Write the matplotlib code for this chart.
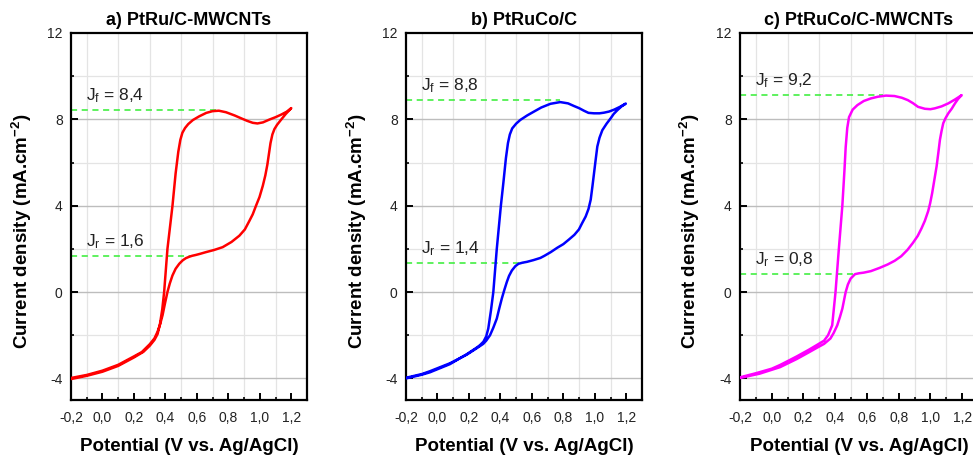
import numpy as np
import matplotlib
matplotlib.use('Agg')
import matplotlib.pyplot as plt
from matplotlib.ticker import FixedLocator, FuncFormatter

plt.rcParams['font.family'] = ['Liberation Sans', 'DejaVu Sans']
plt.rcParams['mathtext.fontset'] = 'custom'
plt.rcParams['mathtext.rm'] = 'Liberation Sans'
plt.rcParams['mathtext.it'] = 'Liberation Sans:italic'
plt.rcParams['mathtext.bf'] = 'Liberation Sans:bold'

# ---- data (potential V, current density mA/cm2) ----
titles = ['a) PtRu/C-MWCNTs', 'b) PtRuCo/C', 'c) PtRuCo/C-MWCNTs']
colors = ['#ff0000', '#0000ff', '#ff00ff']

# panel a
a_fwd_x = [-0.2, -0.1, 0.0, 0.1, 0.2, 0.26, 0.3, 0.33, 0.35, 0.365, 0.38, 0.392, 0.413, 0.445, 0.465,
           0.482, 0.495, 0.508, 0.525, 0.545, 0.575, 0.615, 0.66, 0.70, 0.74, 0.785, 0.84, 0.881, 0.92,
           0.955, 0.985, 1.02, 1.061, 1.10, 1.136, 1.17, 1.2]
a_fwd_y = [-4.03, -3.88, -3.69, -3.42, -3.03, -2.77, -2.49, -2.22, -1.95, -1.5, -0.8, 0.0, 2.0, 4.0, 5.5,
           6.5, 7.05, 7.38, 7.6, 7.78, 7.97, 8.14, 8.3, 8.38, 8.4, 8.33, 8.18, 8.05, 7.93,
           7.84, 7.81, 7.86, 7.99, 8.1, 8.22, 8.35, 8.52]
a_rev_x = [1.2, 1.165, 1.136, 1.11, 1.093, 1.08, 1.068, 1.058, 1.048, 1.035, 1.019, 0.998, 0.976, 0.955,
           0.934, 0.905, 0.87, 0.82, 0.764, 0.71, 0.658, 0.62, 0.594, 0.57, 0.553, 0.53, 0.51, 0.488,
           0.465, 0.445, 0.428, 0.413, 0.398, 0.382, 0.366, 0.35, 0.33, 0.3, 0.25, 0.2, 0.1, 0.0, -0.1,
           -0.2]
a_rev_y = [8.52, 8.25, 7.99, 7.75, 7.55, 7.3, 6.9, 6.4, 5.9, 5.4, 4.92, 4.4, 4.0, 3.6,
           3.3, 2.9, 2.61, 2.32, 2.08, 1.95, 1.85, 1.77, 1.72, 1.68, 1.64, 1.57, 1.47, 1.31,
           1.08, 0.77, 0.4, 0.0, -0.5, -1.07, -1.5, -1.84, -2.15, -2.42, -2.78, -2.98, -3.37, -3.64, -3.84,
           -3.98]

# panel b
b_fwd_x = [-0.2, -0.1, -0.049, 0.079, 0.186, 0.25, 0.27, 0.292, 0.31, 0.323, 0.34, 0.355, 0.377, 0.403,
           0.419, 0.435, 0.448, 0.46, 0.475, 0.5, 0.526, 0.57, 0.611, 0.66, 0.718, 0.78, 0.83, 0.867,
           0.9, 0.931, 0.96, 0.995, 1.03, 1.059, 1.09, 1.123, 1.16, 1.197]
b_fwd_y = [-4.0, -3.83, -3.72, -3.34, -2.88, -2.57, -2.46, -2.3, -2.05, -1.69, -0.85, 0.0, 2.0, 4.0,
           5.07, 6.2, 6.9, 7.3, 7.58, 7.8, 7.97, 8.18, 8.35, 8.55, 8.72, 8.8, 8.74, 8.62,
           8.52, 8.4, 8.3, 8.28, 8.28, 8.31, 8.36, 8.45, 8.58, 8.73]
b_rev_x = [1.197, 1.17, 1.144, 1.12, 1.101, 1.075, 1.048, 1.03, 1.016, 1.005, 0.995, 0.985, 0.974,
           0.96, 0.942, 0.92, 0.899, 0.87, 0.835, 0.8, 0.761, 0.72, 0.68, 0.654, 0.61, 0.569, 0.54,
           0.515, 0.495, 0.473, 0.455, 0.441, 0.425, 0.409, 0.393, 0.377, 0.355, 0.334, 0.31, 0.291,
           0.25, 0.186, 0.079, -0.049, -0.1, -0.2]
b_rev_y = [8.73, 8.6, 8.43, 8.25, 8.05, 7.8, 7.5, 7.15, 6.74, 6.1, 5.5, 4.9, 4.28,
           3.85, 3.5, 3.2, 2.9, 2.65, 2.43, 2.22, 2.05, 1.85, 1.68, 1.58, 1.48, 1.4, 1.36,
           1.31, 1.2, 1.0, 0.75, 0.47, 0.1, -0.3, -0.75, -1.23, -1.65, -2.0, -2.25, -2.4,
           -2.6, -2.9, -3.3, -3.67, -3.8, -3.97]

# panel c
c_fwd_x = [-0.2, -0.1, 0.0, 0.052, 0.1, 0.158, 0.232, 0.285, 0.33, 0.355, 0.381, 0.402, 0.423, 0.445,
           0.458, 0.466, 0.476, 0.487, 0.51, 0.54, 0.58, 0.625, 0.67, 0.72, 0.774, 0.82, 0.858, 0.89,
           0.922, 0.965, 1.0, 1.028, 1.07, 1.113, 1.155, 1.197]
c_fwd_y = [-3.95, -3.76, -3.55, -3.38, -3.2, -2.98, -2.68, -2.45, -2.25, -2.0, -1.54, 0.0, 2.0, 4.0,
           5.6, 6.7, 7.6, 8.1, 8.45, 8.66, 8.85, 8.97, 9.05, 9.1, 9.08, 9.0, 8.89, 8.75,
           8.58, 8.49, 8.47, 8.51, 8.6, 8.74, 8.92, 9.12]
c_rev_x = [1.197, 1.175, 1.155, 1.135, 1.113, 1.095, 1.081, 1.07, 1.06, 1.05, 1.039, 1.025, 1.011,
           0.998, 0.986, 0.965, 0.944, 0.92, 0.89, 0.855, 0.816, 0.775, 0.731, 0.68, 0.625, 0.58,
           0.55, 0.525, 0.497, 0.48, 0.466, 0.445, 0.43, 0.413, 0.39, 0.37, 0.33, 0.285, 0.232,
           0.158, 0.052, -0.076, -0.2]
c_rev_y = [9.12, 8.95, 8.74, 8.5, 8.28, 8.05, 7.82, 7.45, 7.05, 6.45, 5.82, 5.2, 4.58,
           4.1, 3.75, 3.3, 2.95, 2.6, 2.28, 1.95, 1.66, 1.45, 1.28, 1.12, 0.97, 0.9,
           0.87, 0.83, 0.62, 0.35, 0.0, -0.77, -1.15, -1.54, -1.9, -2.15, -2.4, -2.58, -2.8,
           -3.1, -3.48, -3.78, -3.98]

fwd_x = [a_fwd_x, b_fwd_x, c_fwd_x]
fwd_y = [a_fwd_y, b_fwd_y, c_fwd_y]
rev_x = [a_rev_x, b_rev_x, c_rev_x]
rev_y = [a_rev_y, b_rev_y, c_rev_y]

# J_f / J_r markers: level, where the dashed guide ends, label text
jf_level = [8.43, 8.88, 9.12]
jf_end = [0.72, 0.78, 0.70]
jf_text = ['8,4', '8,8', '9,2']
jr_level = [1.66, 1.33, 0.83]
jr_end = [0.56, 0.55, 0.53]
jr_text = ['1,6', '1,4', '0,8']

# ---- figure ----
W, H = 973, 458
fig = plt.figure(figsize=(W / 100, H / 100), dpi=100)
lefts_px = [71, 406, 740]
widths_px = [236, 236, 238]
ax_b, ax_t = 400, 33

decimal_comma = FuncFormatter(lambda v, p: f'{v:.1f}'.replace('.', ','))
int_fmt = FuncFormatter(lambda v, p: f'{v:.0f}')

for i in range(3):
    ax = fig.add_axes([lefts_px[i] / W, (H - ax_b) / H, widths_px[i] / W, (ax_b - ax_t) / H])
    ax.set_xlim(-0.2, 1.3)
    ax.set_ylim(-5, 12)

    # grid: vertical at odd tenths, horizontal major darker / minor lighter
    for gx in np.arange(-0.1, 1.21, 0.2):
        ax.axvline(gx, color='#e4e4e4', lw=0.9, zorder=0)
    for gy in [-2, 2, 6, 10]:
        ax.axhline(gy, color='#e4e4e4', lw=0.9, zorder=0)
    for gy in [-4, 0, 4, 8]:
        ax.axhline(gy, color='#bdbdbd', lw=1.0, zorder=0)

    # dashed J_f / J_r guides
    ax.plot([-0.2, jf_end[i]], [jf_level[i]] * 2, color='#33ee33', lw=1.1, ls=(0, (4, 3)), zorder=1)
    ax.plot([-0.2, jr_end[i]], [jr_level[i]] * 2, color='#33ee33', lw=1.1, ls=(0, (4, 3)), zorder=1)
    ax.text(-0.105, jf_level[i] + 0.45, r'J$_\mathrm{f}$ = ' + jf_text[i], fontsize=12.5, color='#222222')
    ax.text(-0.105, jr_level[i] + 0.45, r'J$_\mathrm{r}$ = ' + jr_text[i], fontsize=12.5, color='#222222')

    # CV loop
    ax.plot(fwd_x[i] + rev_x[i], fwd_y[i] + rev_y[i], color=colors[i], lw=1.8, zorder=3,
            solid_joinstyle='round')

    ax.xaxis.set_major_locator(FixedLocator(np.round(np.arange(-0.2, 1.21, 0.2), 1)))
    ax.xaxis.set_minor_locator(FixedLocator(np.round(np.arange(-0.1, 1.2, 0.2), 1)))
    ax.yaxis.set_major_locator(FixedLocator([-4, 0, 4, 8, 12]))
    ax.yaxis.set_minor_locator(FixedLocator([-2, 2, 6, 10]))
    ax.xaxis.set_major_formatter(decimal_comma)
    ax.yaxis.set_major_formatter(int_fmt)
    ax.tick_params(which='major', direction='in', length=5, width=1.4, labelsize=10,
                   labelcolor='#222222', top=False, right=False)
    ax.tick_params(axis='x', which='major', pad=8)
    ax.tick_params(axis='y', which='major', pad=6)
    ax.tick_params(which='minor', direction='in', length=2.5, width=1.2, top=False, right=False)
    for s in ax.spines.values():
        s.set_linewidth(1.6)

    ax.set_title(titles[i], fontsize=13, fontweight='bold', pad=6)
    ax.set_xlabel('Potential (V vs. Ag/AgCl)', fontsize=13.5, fontweight='bold')
    ax.set_ylabel(r'Current density (mA.cm$^{\mathbf{-2}}$)', fontsize=13.5, fontweight='bold')
    ax.xaxis.set_label_coords(0.5, -0.104)
    ax.yaxis.set_label_coords(-0.158, 0.46)

fig.savefig('out.png', dpi=100)
